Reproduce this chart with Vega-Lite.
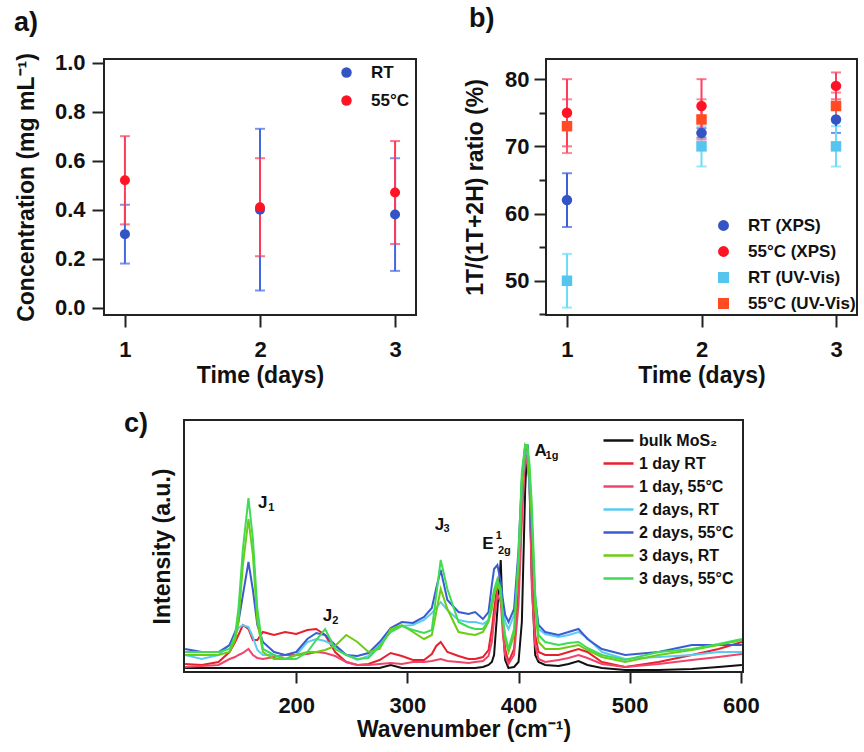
{
  "$schema": "https://vega.github.io/schema/vega-lite/v6.json",
  "padding": {"left": 13, "top": 4, "right": 4, "bottom": 4},
  "spacing": 21,
  "resolve": {
    "scale": {"color": "independent", "shape": "independent"},
    "legend": {"color": "independent", "shape": "independent"}
  },
  "config": {
    "font": "Liberation Sans",
    "view": {"stroke": "#222", "strokeWidth": 2},
    "axis": {
      "grid": false,
      "domain": false,
      "labelFont": "Liberation Sans",
      "titleFont": "Liberation Sans",
      "labelFontWeight": "bold",
      "titleFontWeight": "bold",
      "labelColor": "#111",
      "titleColor": "#111",
      "tickColor": "#222",
      "tickWidth": 2,
      "labelFontSize": 22,
      "titleFontSize": 23,
      "labelFlush": false,
      "labelOverlap": false
    },
    "legend": {
      "labelFont": "Liberation Sans",
      "labelFontWeight": "bold",
      "labelColor": "#111",
      "padding": 0
    },
    "title": {"font": "Liberation Sans", "fontWeight": "bold", "fontSize": 27, "color": "#111", "anchor": "start", "baseline": "bottom", "frame": "group"}
  },
  "vconcat": [
    {
      "hconcat": [
        {
          "width": 312,
          "height": 256,
          "title": {"text": "a)", "dx": -90, "offset": 15},
          "data": {
            "values": [
              {"day": 1, "grp": "RT", "v": 0.30, "lo": 0.18, "hi": 0.42},
              {"day": 2, "grp": "RT", "v": 0.40, "lo": 0.07, "hi": 0.73},
              {"day": 3, "grp": "RT", "v": 0.38, "lo": 0.15, "hi": 0.61},
              {"day": 1, "grp": "55°C", "v": 0.52, "lo": 0.34, "hi": 0.70},
              {"day": 2, "grp": "55°C", "v": 0.41, "lo": 0.21, "hi": 0.61},
              {"day": 3, "grp": "55°C", "v": 0.47, "lo": 0.26, "hi": 0.68}
            ]
          },
          "encoding": {
            "x": {
              "field": "day",
              "type": "quantitative",
              "scale": {"domain": [0.845, 3.155], "nice": false, "zero": false},
              "axis": {"values": [1, 2, 3], "format": "d", "title": "Time (days)", "tickSize": 12, "labelPadding": 12, "titlePadding": 4}
            }
          },
          "layer": [
            {
              "mark": {"type": "errorbar", "ticks": true, "size": 10, "thickness": 2},
              "encoding": {
                "y": {
                  "field": "lo",
                  "type": "quantitative",
                  "scale": {"domain": [-0.03, 1.015], "nice": false, "zero": false},
                  "axis": {"values": [0, 0.2, 0.4, 0.6, 0.8, 1.0], "tickCount": 20, "format": ".1f", "title": "Concentration (mg mL⁻¹)", "tickSize": 12, "labelPadding": 7, "titlePadding": 16}
                },
                "y2": {"field": "hi"},
                "color": {
                  "field": "grp",
                  "type": "nominal",
                  "scale": {"domain": ["RT", "55°C"], "range": ["#4468E0", "#FF3A58"]},
                  "legend": null
                }
              }
            },
            {
              "mark": {"type": "point", "filled": true, "size": 100, "opacity": 1},
              "encoding": {
                "y": {"field": "v", "type": "quantitative", "axis": {"title": "Concentration (mg mL⁻¹)"}},
                "color": {
                  "field": "grp",
                  "type": "nominal",
                  "scale": {"domain": ["RT", "55°C"], "range": ["#3354C4", "#FF1426"]},
                  "legend": {"title": null, "orient": "none", "legendX": 234, "legendY": 5, "labelFontSize": 17, "symbolSize": 110, "rowPadding": 10, "labelOffset": 16}
                }
              }
            }
          ],
          "resolve": {"scale": {"color": "independent"}, "legend": {"color": "independent"}}
        },
        {
          "width": 311,
          "height": 256,
          "title": {"text": "b)", "dx": -77, "offset": 26},
          "data": {
            "values": [
              {"day": 1, "grp": "RT (XPS)", "v": 62, "lo": 58, "hi": 66},
              {"day": 2, "grp": "RT (XPS)", "v": 72, "lo": 71.3, "hi": 72.7},
              {"day": 3, "grp": "RT (XPS)", "v": 74, "lo": 72, "hi": 76},
              {"day": 1, "grp": "RT (UV-Vis)", "v": 50, "lo": 46, "hi": 54},
              {"day": 2, "grp": "RT (UV-Vis)", "v": 70, "lo": 67, "hi": 73},
              {"day": 3, "grp": "RT (UV-Vis)", "v": 70, "lo": 67, "hi": 73},
              {"day": 1, "grp": "55°C (UV-Vis)", "v": 73, "lo": 69, "hi": 77},
              {"day": 2, "grp": "55°C (UV-Vis)", "v": 74, "lo": 71, "hi": 77},
              {"day": 3, "grp": "55°C (UV-Vis)", "v": 76, "lo": 74, "hi": 78},
              {"day": 1, "grp": "55°C (XPS)", "v": 75, "lo": 70, "hi": 80},
              {"day": 2, "grp": "55°C (XPS)", "v": 76, "lo": 72, "hi": 80},
              {"day": 3, "grp": "55°C (XPS)", "v": 79, "lo": 77, "hi": 81}
            ]
          },
          "encoding": {
            "x": {
              "field": "day",
              "type": "quantitative",
              "scale": {"domain": [0.844, 3.156], "nice": false, "zero": false},
              "axis": {"values": [1, 2, 3], "format": "d", "title": "Time (days)", "tickSize": 12, "labelPadding": 12, "titlePadding": 4}
            }
          },
          "layer": [
            {
              "mark": {"type": "errorbar", "ticks": true, "size": 10, "thickness": 2},
              "encoding": {
                "y": {
                  "field": "lo",
                  "type": "quantitative",
                  "scale": {"domain": [44.9, 83], "nice": false, "zero": false},
                  "axis": {
                    "values": [45, 50, 55, 60, 65, 70, 75, 80],
                    "tickCount": 20,
                    "labelExpr": "datum.value % 10 === 0 ? datum.label : ''",
                    "tickSize": {"condition": {"test": "datum.value % 10 === 0", "value": 12}, "value": 7},
                    "title": "1T/(1T+2H) ratio (%)",
                    "labelPadding": 5,
                    "titlePadding": 17
                  }
                },
                "y2": {"field": "hi"},
                "color": {
                  "field": "grp",
                  "type": "nominal",
                  "scale": {"domain": ["RT (XPS)", "55°C (XPS)", "RT (UV-Vis)", "55°C (UV-Vis)"], "range": ["#3D60D8", "#FF3D5C", "#6ADDFA", "#FF5A6A"]},
                  "legend": null
                }
              }
            },
            {
              "mark": {"type": "point", "filled": true, "opacity": 1},
              "encoding": {
                "y": {"field": "v", "type": "quantitative", "axis": {"title": "1T/(1T+2H) ratio (%)"}},
                "color": {
                  "field": "grp",
                  "type": "nominal",
                  "scale": {"domain": ["RT (XPS)", "55°C (XPS)", "RT (UV-Vis)", "55°C (UV-Vis)"], "range": ["#3354C4", "#FF1426", "#55C4EE", "#FF4A22"]},
                  "legend": {"title": null, "orient": "none", "legendX": 169, "legendY": 158, "labelFontSize": 17, "symbolSize": 120, "rowPadding": 8, "labelOffset": 16}
                },
                "shape": {
                  "field": "grp",
                  "type": "nominal",
                  "scale": {"domain": ["RT (XPS)", "55°C (XPS)", "RT (UV-Vis)", "55°C (UV-Vis)"], "range": ["circle", "circle", "square", "square"]},
                  "legend": {"title": null, "orient": "none", "legendX": 169, "legendY": 158, "labelFontSize": 17, "symbolSize": 120, "rowPadding": 8, "labelOffset": 16}
                },
                "size": {"value": 110}
              }
            }
          ],
          "resolve": {
            "scale": {"color": "independent", "shape": "independent"},
            "legend": {"color": "independent", "shape": "independent"}
          }
        }
      ],
      "spacing": 130,
      "bounds": "flush",
      "resolve": {
        "scale": {"color": "independent", "shape": "independent"},
        "legend": {"color": "independent", "shape": "independent"}
      }
    },
    {
      "hconcat": [
        {
          "width": 80,
          "height": 10,
          "data": {"values": []},
          "mark": {"type": "point", "opacity": 0},
          "view": {"stroke": null}
        },
        {
          "width": 559,
          "height": 252,
          "title": {"text": "c)", "dx": -60, "offset": 0, "dy": 18},
          "layer": [
            {
              "data": {
                "values": [
                  {"w": 100, "bulk": 2, "d1rt": 6, "d1h": 3, "d2rt": 15, "d2h": 21, "d3rt": 15, "d3h": 18},
                  {"w": 115, "bulk": 2, "d1rt": 5, "d1h": 4, "d2rt": 11, "d2h": 18, "d3rt": 15, "d3h": 18},
                  {"w": 130, "bulk": 2, "d1rt": 8, "d1h": 5, "d2rt": 15, "d2h": 18, "d3rt": 15, "d3h": 18},
                  {"w": 140, "bulk": 2, "d1rt": 18, "d1h": 11, "d2rt": 25, "d2h": 25, "d3rt": 18, "d3h": 21},
                  {"w": 145, "bulk": 2, "d1rt": 28, "d1h": 13, "d2rt": 35, "d2h": 38, "d3rt": 30, "d3h": 35},
                  {"w": 148, "bulk": 2, "d1rt": 35, "d1h": 15, "d2rt": 42, "d2h": 48, "d3rt": 48, "d3h": 61},
                  {"w": 152, "bulk": 2, "d1rt": 45, "d1h": 17, "d2rt": 45, "d2h": 75, "d3rt": 105, "d3h": 121},
                  {"w": 157, "bulk": 2, "d1rt": 41, "d1h": 21, "d2rt": 43, "d2h": 108, "d3rt": 151, "d3h": 172},
                  {"w": 161, "bulk": 2, "d1rt": 30, "d1h": 15, "d2rt": 33, "d2h": 80, "d3rt": 115, "d3h": 131},
                  {"w": 165, "bulk": 2, "d1rt": 30, "d1h": 12, "d2rt": 20, "d2h": 45, "d3rt": 48, "d3h": 61},
                  {"w": 170, "bulk": 2, "d1rt": 38, "d1h": 11, "d2rt": 15, "d2h": 28, "d3rt": 18, "d3h": 21},
                  {"w": 180, "bulk": 2, "d1rt": 35, "d1h": 13, "d2rt": 15, "d2h": 18, "d3rt": 11, "d3h": 15},
                  {"w": 190, "bulk": 2, "d1rt": 38, "d1h": 15, "d2rt": 11, "d2h": 15, "d3rt": 11, "d3h": 11},
                  {"w": 200, "bulk": 2, "d1rt": 36, "d1h": 15, "d2rt": 15, "d2h": 18, "d3rt": 15, "d3h": 11},
                  {"w": 210, "bulk": 2, "d1rt": 40, "d1h": 16, "d2rt": 28, "d2h": 31, "d3rt": 18, "d3h": 18},
                  {"w": 218, "bulk": 2, "d1rt": 41, "d1h": 18, "d2rt": 31, "d2h": 37, "d3rt": 18, "d3h": 30},
                  {"w": 226, "bulk": 2, "d1rt": 35, "d1h": 17, "d2rt": 29, "d2h": 35, "d3rt": 20, "d3h": 41},
                  {"w": 235, "bulk": 2, "d1rt": 18, "d1h": 14, "d2rt": 24, "d2h": 25, "d3rt": 24, "d3h": 21},
                  {"w": 245, "bulk": 2, "d1rt": 8, "d1h": 8, "d2rt": 15, "d2h": 15, "d3rt": 35, "d3h": 15},
                  {"w": 255, "bulk": 2, "d1rt": 5, "d1h": 5, "d2rt": 10, "d2h": 14, "d3rt": 28, "d3h": 11},
                  {"w": 265, "bulk": 2, "d1rt": 6, "d1h": 5, "d2rt": 14, "d2h": 17, "d3rt": 18, "d3h": 12},
                  {"w": 275, "bulk": 2, "d1rt": 10, "d1h": 6, "d2rt": 25, "d2h": 28, "d3rt": 21, "d3h": 24},
                  {"w": 285, "bulk": 5, "d1rt": 17, "d1h": 7, "d2rt": 40, "d2h": 42, "d3rt": 41, "d3h": 38},
                  {"w": 295, "bulk": 2, "d1rt": 14, "d1h": 6, "d2rt": 44, "d2h": 48, "d3rt": 45, "d3h": 44},
                  {"w": 305, "bulk": 2, "d1rt": 10, "d1h": 8, "d2rt": 45, "d2h": 47, "d3rt": 38, "d3h": 40},
                  {"w": 315, "bulk": 2, "d1rt": 10, "d1h": 8, "d2rt": 50, "d2h": 53, "d3rt": 31, "d3h": 37},
                  {"w": 322, "bulk": 2, "d1rt": 16, "d1h": 9, "d2rt": 57, "d2h": 62, "d3rt": 35, "d3h": 40},
                  {"w": 326, "bulk": 2, "d1rt": 24, "d1h": 10, "d2rt": 62, "d2h": 82, "d3rt": 58, "d3h": 75},
                  {"w": 330, "bulk": 2, "d1rt": 28, "d1h": 11, "d2rt": 68, "d2h": 100, "d3rt": 81, "d3h": 110},
                  {"w": 336, "bulk": 2, "d1rt": 18, "d1h": 9, "d2rt": 60, "d2h": 70, "d3rt": 61, "d3h": 81},
                  {"w": 346, "bulk": 2, "d1rt": 14, "d1h": 8, "d2rt": 50, "d2h": 58, "d3rt": 38, "d3h": 48},
                  {"w": 355, "bulk": 2, "d1rt": 11, "d1h": 7, "d2rt": 48, "d2h": 56, "d3rt": 36, "d3h": 43},
                  {"w": 361, "bulk": 2, "d1rt": 11, "d1h": 8, "d2rt": 48, "d2h": 58, "d3rt": 35, "d3h": 41},
                  {"w": 368, "bulk": 3, "d1rt": 13, "d1h": 9, "d2rt": 46, "d2h": 51, "d3rt": 38, "d3h": 41},
                  {"w": 373, "bulk": 5, "d1rt": 20, "d1h": 14, "d2rt": 50, "d2h": 58, "d3rt": 48, "d3h": 50},
                  {"w": 376, "bulk": 8, "d1rt": 41, "d1h": 28, "d2rt": 68, "d2h": 85, "d3rt": 61, "d3h": 68},
                  {"w": 378, "bulk": 15, "d1rt": 60, "d1h": 50, "d2rt": 78, "d2h": 101, "d3rt": 75, "d3h": 80},
                  {"w": 381, "bulk": 60, "d1rt": 85, "d1h": 75, "d2rt": 85, "d2h": 105, "d3rt": 85, "d3h": 91},
                  {"w": 384, "bulk": 110, "d1rt": 81, "d1h": 68, "d2rt": 81, "d2h": 88, "d3rt": 78, "d3h": 81},
                  {"w": 386, "bulk": 45, "d1rt": 45, "d1h": 35, "d2rt": 62, "d2h": 70, "d3rt": 50, "d3h": 50},
                  {"w": 388, "bulk": 10, "d1rt": 21, "d1h": 15, "d2rt": 48, "d2h": 55, "d3rt": 31, "d3h": 35},
                  {"w": 391, "bulk": 2, "d1rt": 8, "d1h": 6, "d2rt": 41, "d2h": 48, "d3rt": 18, "d3h": 21},
                  {"w": 396, "bulk": 3, "d1rt": 21, "d1h": 15, "d2rt": 55, "d2h": 61, "d3rt": 35, "d3h": 41},
                  {"w": 400, "bulk": 8, "d1rt": 81, "d1h": 65, "d2rt": 108, "d2h": 120, "d3rt": 108, "d3h": 115},
                  {"w": 403, "bulk": 48, "d1rt": 165, "d1h": 148, "d2rt": 181, "d2h": 190, "d3rt": 188, "d3h": 198},
                  {"w": 406, "bulk": 181, "d1rt": 225, "d1h": 215, "d2rt": 221, "d2h": 225, "d3rt": 225, "d3h": 225},
                  {"w": 408, "bulk": 225, "d1rt": 215, "d1h": 205, "d2rt": 215, "d2h": 225, "d3rt": 221, "d3h": 225},
                  {"w": 410, "bulk": 181, "d1rt": 190, "d1h": 188, "d2rt": 180, "d2h": 190, "d3rt": 190, "d3h": 205},
                  {"w": 412, "bulk": 90, "d1rt": 98, "d1h": 81, "d2rt": 148, "d2h": 130, "d3rt": 148, "d3h": 165},
                  {"w": 415, "bulk": 15, "d1rt": 35, "d1h": 25, "d2rt": 75, "d2h": 70, "d3rt": 61, "d3h": 75},
                  {"w": 418, "bulk": 8, "d1rt": 18, "d1h": 11, "d2rt": 41, "d2h": 45, "d3rt": 28, "d3h": 35},
                  {"w": 424, "bulk": 5, "d1rt": 15, "d1h": 8, "d2rt": 36, "d2h": 38, "d3rt": 21, "d3h": 28},
                  {"w": 436, "bulk": 4, "d1rt": 15, "d1h": 10, "d2rt": 33, "d2h": 35, "d3rt": 21, "d3h": 25},
                  {"w": 445, "bulk": 6, "d1rt": 18, "d1h": 12, "d2rt": 35, "d2h": 38, "d3rt": 23, "d3h": 27},
                  {"w": 454, "bulk": 9, "d1rt": 21, "d1h": 15, "d2rt": 38, "d2h": 41, "d3rt": 25, "d3h": 28},
                  {"w": 462, "bulk": 5, "d1rt": 18, "d1h": 12, "d2rt": 32, "d2h": 31, "d3rt": 20, "d3h": 22},
                  {"w": 475, "bulk": 2, "d1rt": 8, "d1h": 6, "d2rt": 18, "d2h": 21, "d3rt": 13, "d3h": 15},
                  {"w": 496, "bulk": 0, "d1rt": 3, "d1h": 3, "d2rt": 11, "d2h": 15, "d3rt": 8, "d3h": 10},
                  {"w": 526, "bulk": 0, "d1rt": 8, "d1h": 6, "d2rt": 13, "d2h": 18, "d3rt": 15, "d3h": 18},
                  {"w": 556, "bulk": 1, "d1rt": 15, "d1h": 10, "d2rt": 15, "d2h": 25, "d3rt": 20, "d3h": 21},
                  {"w": 580, "bulk": 3, "d1rt": 21, "d1h": 13, "d2rt": 18, "d2h": 25, "d3rt": 25, "d3h": 26},
                  {"w": 601, "bulk": 5, "d1rt": 28, "d1h": 16, "d2rt": 18, "d2h": 25, "d3rt": 30, "d3h": 31}
                ]
              },
              "transform": [
                {"fold": ["bulk", "d1rt", "d1h", "d2rt", "d2h", "d3rt", "d3h"], "as": ["series", "i"]}
              ],
              "mark": {"type": "line", "strokeWidth": 2, "interpolate": "linear"},
              "encoding": {
                "x": {
                  "field": "w",
                  "type": "quantitative",
                  "scale": {"domain": [99, 602], "nice": false, "zero": false},
                  "axis": {"values": [200, 300, 400, 500, 600], "title": "Wavenumber (cm⁻¹)", "tickSize": 11, "labelPadding": 12, "titlePadding": 2}
                },
                "y": {
                  "field": "i",
                  "type": "quantitative",
                  "scale": {"domain": [-2, 250], "nice": false, "zero": false},
                  "axis": {"title": "Intensity (a.u.)", "labels": false, "ticks": false, "titlePadding": 10}
                },
                "color": {
                  "field": "series",
                  "type": "nominal",
                  "scale": {
                    "domain": ["bulk", "d1rt", "d1h", "d2rt", "d2h", "d3rt", "d3h"],
                    "range": ["#111111", "#E8202E", "#F04468", "#5CCBF2", "#3A5CD2", "#6CCC12", "#3EDB55"]
                  },
                  "legend": {
                    "title": null,
                    "orient": "none",
                    "legendX": 423,
                    "legendY": 9,
                    "labelFontSize": 16,
                    "symbolType": "M-1.5,0H1.5",
                    "symbolSize": 400,
                    "symbolStrokeWidth": 2.5,
                    "rowPadding": 3,
                    "labelOffset": 9,
                    "labelExpr": "{'bulk': 'bulk MoS₂', 'd1rt': '1 day RT', 'd1h': '1 day, 55°C', 'd2rt': '2 days, RT', 'd2h': '2 days, 55°C', 'd3rt': '3 days, RT', 'd3h': '3 days, 55°C'}[datum.label]"
                  }
                }
              }
            },
            {
              "data": {
                "values": [
                  {"w": 169.8, "i": 167, "t": "J"},
                  {"w": 228, "i": 54, "t": "J"},
                  {"w": 329, "i": 145, "t": "J"},
                  {"w": 372.5, "i": 126, "t": "E"},
                  {"w": 420, "i": 219, "t": "A"}
                ]
              },
              "mark": {"type": "text", "align": "center", "baseline": "middle", "fontSize": 17, "fontWeight": "bold", "font": "Liberation Sans", "color": "#111"},
              "encoding": {
                "x": {"field": "w", "type": "quantitative"},
                "y": {"field": "i", "type": "quantitative"},
                "text": {"field": "t"}
              }
            },
            {
              "data": {
                "values": [
                  {"w": 174.8, "i": 162, "t": "1"},
                  {"w": 232.4, "i": 49, "t": "2"},
                  {"w": 332.4, "i": 141, "t": "3"},
                  {"w": 379.5, "i": 134, "t": "1"},
                  {"w": 381.5, "i": 119, "t": "2g"},
                  {"w": 424.3, "i": 214, "t": "1g"}
                ]
              },
              "mark": {"type": "text", "align": "left", "baseline": "middle", "fontSize": 11, "fontWeight": "bold", "font": "Liberation Sans", "color": "#111"},
              "encoding": {
                "x": {"field": "w", "type": "quantitative"},
                "y": {"field": "i", "type": "quantitative"},
                "text": {"field": "t"}
              }
            }
          ]
        }
      ],
      "spacing": 0,
      "bounds": "flush",
      "resolve": {
        "scale": {"color": "independent"},
        "legend": {"color": "independent"}
      }
    }
  ]
}
